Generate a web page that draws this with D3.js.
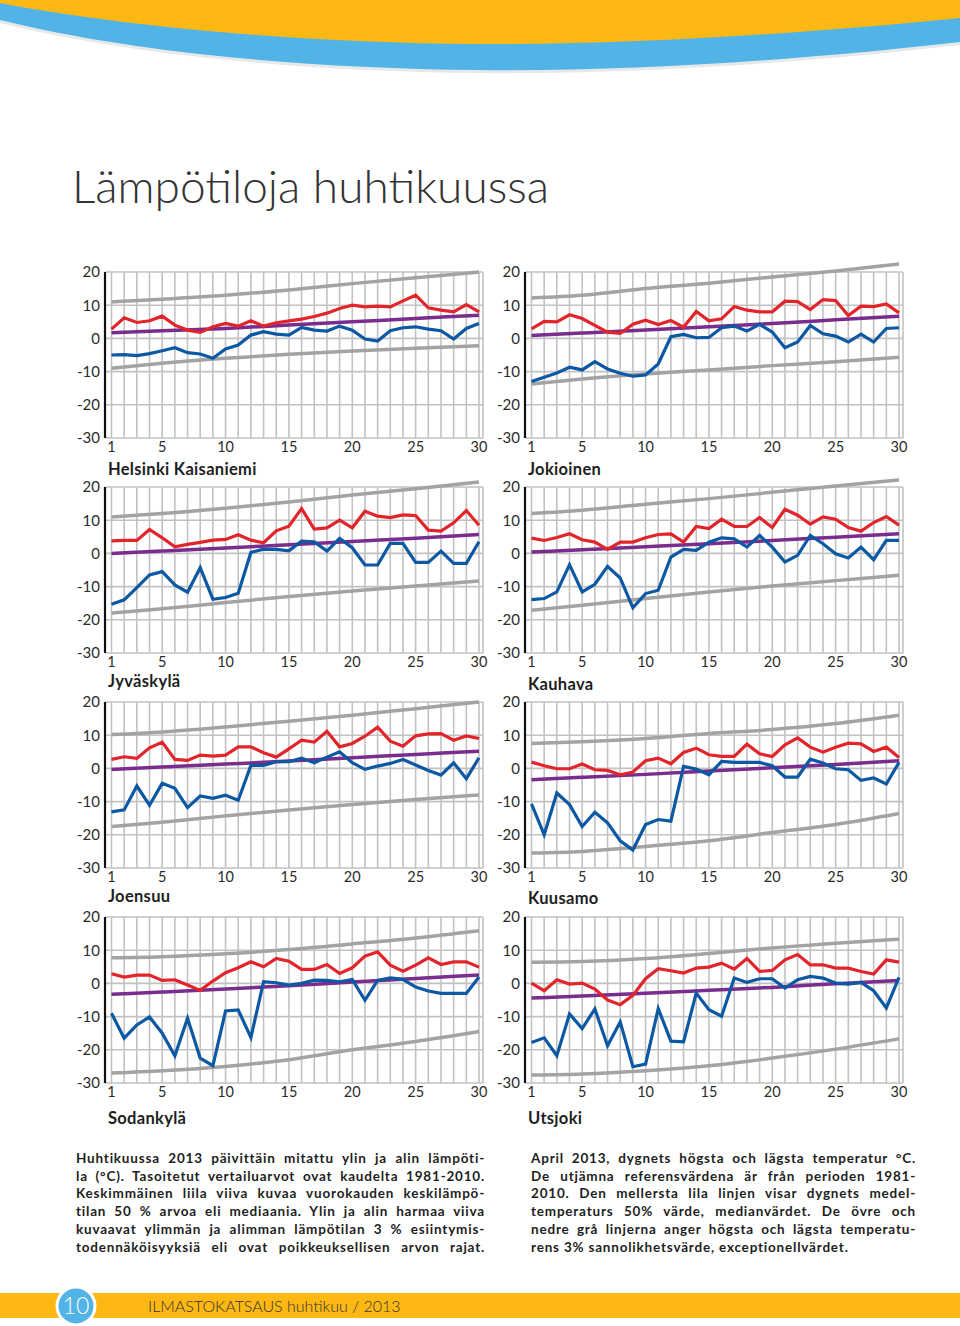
<!DOCTYPE html>
<meta charset="utf-8">
<style>
body { margin: 0; background: #fff; }
svg { display: block; font-family: Lato, "Open Sans", sans-serif; }
.grid line { stroke: #c2c2c2; stroke-width: 1.6px; }
.axis-line { stroke: #111; stroke-width: 2.2px; }
.tick-y, .tick-x { font-size: 15px; fill: #2b2b2b; }
.tick-x { font-size: 14.5px; }
.name { font-size: 16.5px; font-weight: 700; fill: #1e1e1e; letter-spacing: 0.3px; }
.ref { fill: none; stroke: #a3a3a3; stroke-width: 3.5px; }
.median { fill: none; stroke: #7a2c8f; stroke-width: 3.5px; }
.tmax { fill: none; stroke: #e2242b; stroke-width: 3.2px; }
.tmin { fill: none; stroke: #0c58a3; stroke-width: 3.2px; }
.para { font-size: 13.5px; font-weight: 700; fill: #1e1e1e; letter-spacing: 0.8px; }
</style>
<svg width="960" height="1326"></svg>
<script src="https://cdn.jsdelivr.net/npm/d3@7"></script>
<script>
// April 2013, daily max / min temperatures at 8 Finnish stations

var days = d3.range(1, 31);
var xTickLabels = [1, 5, 10, 15, 20, 25, 30];
var yTicks = [20, 10, 0, -10, -20, -30];
var refDays = [1, 5, 10, 15, 20, 25, 30];

var stations = ["Helsinki Kaisaniemi", "Jokioinen", "Jyväskylä", "Kauhava",
                "Joensuu", "Kuusamo", "Sodankylä", "Utsjoki"];

// daily maximum (red)
var maxTemps = [
  [2.8, 6.2, 4.8, 5.3, 6.7, 4.0, 2.5, 1.8, 3.5, 4.5, 3.7, 5.3, 3.7, 4.7, 5.3, 5.8, 6.6, 7.6, 9.0, 10.0, 9.5, 9.7, 9.5, 11.3, 13.0, 9.2, 8.5, 8.0, 10.2, 8.0],
  [2.9, 5.1, 5.0, 7.1, 6.0, 3.9, 1.9, 1.5, 4.3, 5.5, 4.2, 5.4, 3.4, 8.1, 5.3, 5.9, 9.6, 8.5, 8.0, 8.0, 11.2, 11.1, 8.7, 11.7, 11.4, 6.9, 9.7, 9.6, 10.4, 7.7],
  [3.8, 3.9, 3.9, 7.2, 4.7, 2.0, 2.7, 3.3, 4.0, 4.2, 5.6, 4.0, 3.2, 6.8, 8.2, 13.5, 7.3, 7.7, 10.0, 7.7, 12.7, 11.2, 10.8, 11.6, 11.4, 7.0, 6.7, 9.2, 12.9, 8.5],
  [4.6, 3.9, 4.8, 5.9, 4.1, 3.4, 1.2, 3.4, 3.4, 4.7, 5.7, 5.9, 3.4, 8.1, 7.5, 10.3, 8.1, 8.1, 10.8, 7.8, 13.3, 11.5, 8.8, 11.0, 10.3, 7.8, 6.7, 9.3, 11.1, 8.5],
  [2.7, 3.5, 3.0, 6.2, 7.9, 2.7, 2.4, 4.0, 3.7, 4.0, 6.5, 6.5, 4.7, 3.4, 5.9, 8.5, 7.9, 11.2, 6.5, 7.5, 9.7, 12.4, 8.2, 6.7, 9.8, 10.4, 10.5, 8.5, 9.8, 9.0],
  [1.9, 0.8, -0.1, -0.1, 1.3, -0.4, -0.6, -1.9, -1.1, 2.3, 3.1, 1.4, 4.8, 6.1, 4.1, 3.6, 3.6, 7.3, 4.4, 3.6, 7.1, 9.2, 6.4, 4.9, 6.4, 7.6, 7.4, 5.1, 6.4, 3.3],
  [2.9, 1.9, 2.5, 2.5, 0.9, 1.1, -0.5, -2.1, 0.7, 3.2, 4.7, 6.5, 5.0, 7.5, 6.7, 4.2, 4.2, 5.7, 3.0, 4.7, 8.2, 9.5, 5.5, 3.7, 5.5, 7.7, 5.7, 6.5, 6.5, 4.9],
  [0.1, -2.2, 1.1, -0.2, 0.1, -1.7, -5.0, -6.4, -3.6, 1.4, 4.4, 3.8, 3.1, 4.6, 4.9, 6.1, 4.3, 7.5, 3.6, 3.9, 7.1, 8.7, 5.6, 5.6, 4.6, 4.6, 3.6, 2.8, 7.1, 6.4]
];

// daily minimum (blue)
var minTemps = [
  [-5.0, -4.9, -5.2, -4.6, -3.7, -2.8, -4.3, -4.7, -6.0, -3.2, -2.0, 1.0, 2.0, 1.3, 1.0, 3.3, 2.5, 2.2, 3.7, 2.5, -0.2, -0.8, 2.3, 3.2, 3.5, 2.8, 2.3, -0.2, 3.0, 4.5],
  [-13.0, -11.7, -10.4, -8.7, -9.5, -7.0, -9.2, -10.5, -11.4, -11.0, -7.7, 0.5, 1.2, 0.2, 0.3, 3.2, 3.7, 2.2, 4.2, 1.9, -2.8, -1.1, 3.9, 1.4, 0.7, -1.1, 1.3, -1.1, 3.0, 3.2],
  [-15.3, -14.0, -10.3, -6.5, -5.5, -9.5, -11.7, -4.3, -13.8, -13.3, -12.0, 0.3, 1.3, 1.2, 0.8, 3.7, 3.5, 0.7, 4.5, 1.7, -3.5, -3.5, 3.0, 3.0, -2.7, -2.7, 0.7, -3.0, -3.0, 3.5],
  [-13.9, -13.6, -11.6, -3.4, -11.6, -9.3, -3.9, -7.4, -16.4, -12.1, -11.1, -1.1, 1.2, 0.9, 3.4, 4.7, 4.4, 1.9, 5.4, 1.9, -2.6, -0.6, 5.4, 2.9, -0.1, -1.4, 1.9, -1.9, 3.9, 3.9],
  [-13.1, -12.5, -5.3, -11.1, -4.5, -6.0, -11.8, -8.3, -9.0, -8.1, -9.6, 0.9, 0.9, 2.0, 2.0, 3.1, 1.7, 3.4, 5.0, 1.7, -0.3, 0.7, 1.5, 2.7, 1.0, -0.6, -2.0, 1.7, -3.1, 3.2],
  [-10.7, -20.0, -7.4, -10.9, -17.5, -13.2, -16.4, -21.8, -24.6, -16.9, -15.4, -15.9, 0.6, -0.2, -1.9, 2.1, 1.8, 1.8, 1.8, 0.8, -2.6, -2.6, 2.8, 1.6, -0.1, -0.4, -3.6, -2.9, -4.7, 1.8],
  [-9.0, -16.5, -12.5, -10.1, -15.0, -21.8, -10.5, -22.5, -24.8, -8.3, -8.0, -16.3, 0.5, 0.2, -0.5, 0.0, 1.0, 0.9, 0.5, 1.2, -5.1, 0.9, 1.7, 1.2, -1.1, -2.3, -3.0, -3.0, -3.0, 1.9],
  [-17.8, -16.4, -21.8, -9.2, -13.6, -7.7, -18.8, -11.6, -25.1, -24.3, -7.6, -17.4, -17.6, -2.9, -7.9, -9.9, 1.6, 0.3, 1.4, 1.4, -1.4, 1.1, 2.1, 1.6, 0.1, -0.2, 0.3, -2.2, -7.4, 1.8]
];

// smoothed 1981-2010 reference values, read at refDays
var medianRef = [
  [1.7, 2.3, 3.0, 4.0, 5.0, 6.0, 7.0],
  [0.9, 1.6, 2.5, 3.5, 4.5, 5.6, 6.7],
  [0.0, 0.7, 1.6, 2.6, 3.6, 4.6, 5.7],
  [0.4, 1.1, 2.0, 2.9, 3.9, 4.9, 5.9],
  [-0.3, 0.4, 1.3, 2.2, 3.2, 4.2, 5.2],
  [-3.4, -2.7, -1.8, -0.8, 0.2, 1.2, 2.3],
  [-3.3, -2.6, -1.7, -0.7, 0.4, 1.5, 2.5],
  [-4.4, -3.8, -3.0, -2.1, -1.2, -0.1, 0.9]
];
var high3Ref = [
  [11.0, 11.8, 13.0, 14.6, 16.5, 18.3, 20.0],
  [12.2, 13.0, 15.0, 16.6, 18.5, 20.3, 22.4],
  [11.0, 12.0, 13.6, 15.5, 17.6, 19.5, 21.5],
  [12.0, 13.0, 14.8, 16.5, 18.4, 20.3, 22.1],
  [10.2, 11.0, 12.5, 14.2, 16.0, 18.0, 20.0],
  [7.5, 8.0, 9.0, 10.5, 11.7, 13.5, 16.0],
  [7.7, 8.0, 8.9, 10.2, 11.9, 13.7, 15.9],
  [6.4, 6.6, 7.5, 9.0, 10.7, 12.1, 13.3]
];
var low3Ref = [
  [-9.0, -7.5, -6.0, -4.8, -3.8, -3.0, -2.2],
  [-13.7, -12.2, -10.7, -9.5, -8.2, -7.0, -5.7],
  [-18.0, -16.7, -14.8, -13.0, -11.3, -9.8, -8.3],
  [-17.1, -15.6, -13.6, -11.6, -9.8, -8.2, -6.6],
  [-17.5, -16.2, -14.3, -12.5, -10.9, -9.4, -8.0],
  [-25.5, -25.0, -23.5, -21.8, -19.3, -16.9, -13.6],
  [-27.0, -26.3, -25.0, -23.0, -20.0, -17.5, -14.5],
  [-27.6, -27.3, -26.3, -24.8, -22.5, -19.8, -16.7]
];

var textFi = [
  "Huhtikuussa 2013 päivittäin mitattu ylin ja alin lämpöti-",
  "la (°C). Tasoitetut vertailuarvot ovat kaudelta 1981-2010.",
  "Keskimmäinen liila viiva kuvaa vuorokauden keskilämpö-",
  "tilan 50 % arvoa eli mediaania. Ylin ja alin harmaa viiva",
  "kuvaavat ylimmän ja alimman lämpötilan 3 % esiintymis-",
  "todennäköisyyksiä eli ovat poikkeuksellisen arvon rajat."
];
var textSv = [
  "April 2013, dygnets högsta och lägsta temperatur °C.",
  "De utjämna referensvärdena är från perioden 1981-",
  "2010. Den mellersta lila linjen visar dygnets medel-",
  "temperaturs 50% värde, medianvärdet. De övre och",
  "nedre grå linjerna anger högsta och lägsta temperatu-",
  "rens 3% sannolikhetsvärde, exceptionellvärdet."
];

var svg = d3.select("svg");

// header band
var bandPath = "M0,0H960V42C820,58 640,72 478,70C300,68 130,52 0,20Z";
svg.append("path")
    .attr("d", bandPath)
    .attr("fill", "#e6e8ea")
    .attr("transform", "translate(0,3)");
svg.append("path")
    .attr("d", bandPath)
    .attr("fill", "#52b4e6");
svg.append("path")
    .attr("d", "M0,0H960V18C820,32 640,45 478,44C300,43 120,26 0,3Z")
    .attr("fill", "#fdb813");

svg.append("text")
    .attr("x", 72)
    .attr("y", 203)
    .attr("font-size", 46)
    .attr("font-weight", 300)
    .attr("fill", "#333")
    .text("Lämpötiloja huhtikuussa");

var colX = [105, 525],
    rowY = [272, 487, 702, 917],
    plotH = 166,
    plotW = 378,
    nameDy = [37, 37, 34, 37, 34, 36, 41, 41];

var y = d3.scaleLinear().domain([-30, 20]).range([plotH, 0]);
var x = d3.scaleLinear().domain([1, 30]).range([6.5, 374]);

var line = d3.line()
    .x(function(d, i) { return x(days[i]); })
    .y(function(d) { return y(d); });

var refLine = d3.line()
    .curve(d3.curveMonotoneX)
    .x(function(d, i) { return x(refDays[i]); })
    .y(function(d) { return y(d); });

stations.forEach(function(name, s) {
  var g = svg.append("g")
      .attr("transform", "translate(" + colX[s % 2] + "," + rowY[Math.floor(s / 2)] + ")");

  var grid = g.append("g").attr("class", "grid");
  grid.selectAll(".v")
    .data(days.concat([30.3]))
    .enter().append("line")
      .attr("x1", function(d) { return d > 30 ? plotW : x(d); })
      .attr("x2", function(d) { return d > 30 ? plotW : x(d); })
      .attr("y1", 0)
      .attr("y2", plotH);
  grid.selectAll(".h")
    .data(yTicks)
    .enter().append("line")
      .attr("x1", 0)
      .attr("x2", plotW)
      .attr("y1", function(d) { return y(d); })
      .attr("y2", function(d) { return y(d); });

  g.append("line")
      .attr("class", "axis-line")
      .attr("x1", 0).attr("x2", 0)
      .attr("y1", 0).attr("y2", plotH);

  g.selectAll(".tick-y")
    .data(yTicks)
    .enter().append("text")
      .attr("class", "tick-y")
      .attr("x", -5)
      .attr("y", function(d) { return y(d); })
      .attr("dy", "0.36em")
      .attr("text-anchor", "end")
      .text(function(d) { return d; });

  g.selectAll(".tick-x")
    .data(xTickLabels)
    .enter().append("text")
      .attr("class", "tick-x")
      .attr("x", function(d) { return x(d); })
      .attr("y", plotH + 14)
      .attr("text-anchor", "middle")
      .text(function(d) { return d; });

  g.append("text")
      .attr("class", "name")
      .attr("x", 3)
      .attr("y", plotH + nameDy[s])
      .text(name);

  g.append("path").attr("class", "ref").attr("d", refLine(high3Ref[s]));
  g.append("path").attr("class", "ref").attr("d", refLine(low3Ref[s]));
  g.append("path").attr("class", "median").attr("d", refLine(medianRef[s]));
  g.append("path").attr("class", "tmax").attr("d", line(maxTemps[s]));
  g.append("path").attr("class", "tmin").attr("d", line(minTemps[s]));
});

// caption paragraphs, justified by word spacing
function paragraph(lines, x0, width, lastFull) {
  svg.append("g").selectAll("text")
    .data(lines)
    .enter().append("text")
      .attr("class", "para")
      .attr("x", x0)
      .attr("y", function(d, i) { return 1163 + i * 17.7; })
      .text(function(d) { return d; })
      .each(function(d, i) {
        if (i === lines.length - 1 && !lastFull) return;
        var spaces = (d.match(/ /g) || []).length;
        var w = this.getComputedTextLength();
        if (spaces) d3.select(this).attr("word-spacing", (width - w) / spaces);
      });
}
paragraph(textFi, 76, 409, true);
paragraph(textSv, 531, 385, false);

// footer
svg.append("rect")
    .attr("x", 0).attr("y", 1293)
    .attr("width", 960).attr("height", 25)
    .attr("fill", "#fdb813");
svg.append("circle")
    .attr("cx", 76).attr("cy", 1306).attr("r", 19)
    .attr("fill", "#52b4e6")
    .attr("stroke", "#fff")
    .attr("stroke-width", 3);
svg.append("text")
    .attr("x", 76).attr("y", 1314)
    .attr("text-anchor", "middle")
    .attr("font-size", 23)
    .attr("font-weight", 300)
    .attr("fill", "#fff")
    .text("10");
svg.append("text")
    .attr("x", 148).attr("y", 1312)
    .attr("font-size", 16)
    .attr("font-weight", 300)
    .attr("fill", "#333")
    .text("ILMASTOKATSAUS huhtikuu / 2013");
</script>
